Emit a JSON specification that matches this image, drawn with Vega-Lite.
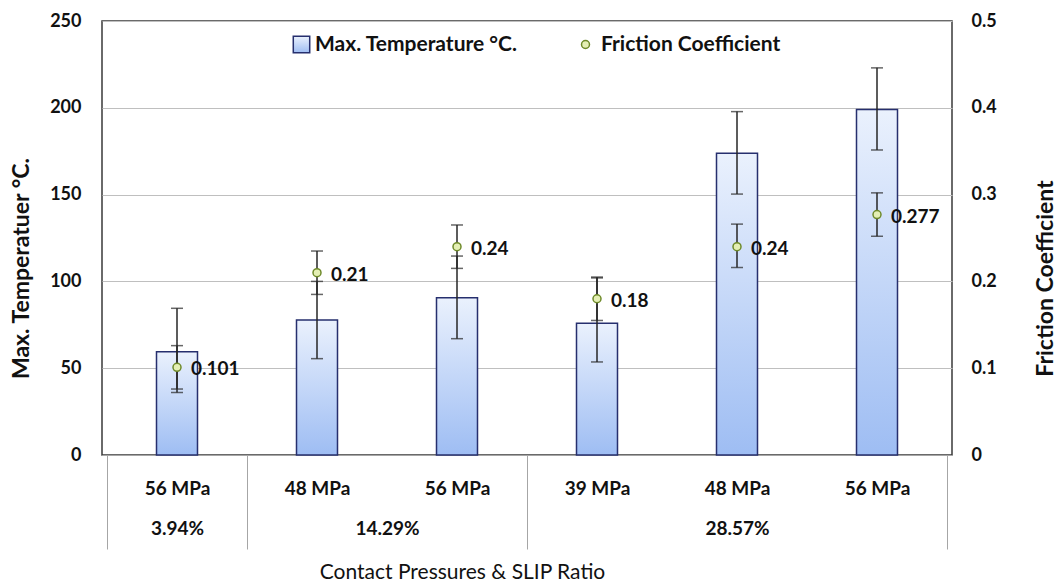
{
  "$schema": "https://vega.github.io/schema/vega-lite/v6.json",
  "width": 850,
  "height": 434,
  "autosize": {"type": "none"},
  "padding": {"left": 102, "top": 21, "right": 105, "bottom": 129},
  "background": "white",
  "config": {
    "font": "Lato",
    "view": {"stroke": "#3a3a3a", "strokeWidth": 1.5},
    "axis": {"labelFont": "Lato", "titleFont": "Lato", "labelColor": "#111", "titleColor": "#111"},
    "legend": {"labelFont": "Lato", "labelLimit": 400}
  },
  "data": {
    "values": [
      {"slip": "3.94%", "pressure": "56 MPa", "n": 1, "temp": 59.5, "temp_lo": 36, "temp_hi": 84.5, "friction": 0.101, "f_lo": 0.076, "f_hi": 0.126},
      {"slip": "14.29%", "pressure": "48 MPa", "n": 2, "temp": 77.8, "temp_lo": 55.5, "temp_hi": 100, "friction": 0.21, "f_lo": 0.185, "f_hi": 0.235},
      {"slip": "14.29%", "pressure": "56 MPa", "n": 3, "temp": 90.6, "temp_lo": 67, "temp_hi": 114.6, "friction": 0.24, "f_lo": 0.215, "f_hi": 0.265},
      {"slip": "28.57%", "pressure": "39 MPa", "n": 4, "temp": 75.9, "temp_lo": 53.6, "temp_hi": 102, "friction": 0.18, "f_lo": 0.155, "f_hi": 0.205},
      {"slip": "28.57%", "pressure": "48 MPa", "n": 5, "temp": 173.8, "temp_lo": 150.3, "temp_hi": 197.8, "friction": 0.24, "f_lo": 0.216, "f_hi": 0.266},
      {"slip": "28.57%", "pressure": "56 MPa", "n": 6, "temp": 199, "temp_lo": 175.7, "temp_hi": 223, "friction": 0.277, "f_lo": 0.252, "f_hi": 0.302}
    ]
  },
  "layer": [
    {
      "encoding": {
        "x": {
          "field": "n",
          "type": "quantitative",
          "scale": {"domain": [0.5, 6.5], "nice": false, "zero": false},
          "axis": {
            "values": [0.5, 1, 1.5, 2, 2.5, 3, 3.5, 4, 5, 6, 6.5],
            "labelExpr": "datum.value == 1 ? ['56 MPa', '3.94%'] : datum.value == 2 ? '48 MPa' : datum.value == 2.5 ? [' ', '14.29%'] : datum.value == 3 ? '56 MPa' : datum.value == 4 ? '39 MPa' : datum.value == 5 ? ['48 MPa', '28.57%'] : datum.value == 6 ? '56 MPa' : ''",
            "tickSize": 94,
            "tickColor": "#a6a6a6",
            "tickWidth": 1,
            "tickOpacity": {"condition": {"test": "datum.value == 0.5 || datum.value == 1.5 || datum.value == 3.5 || datum.value == 6.5", "value": 1}, "value": 0},
            "labelPadding": -70,
            "labelBaseline": "top",
            "labelLineHeight": 40,
            "labelFontSize": 19,
            "labelFontWeight": "bold",
            "labelOverlap": false,
            "labelBound": false,
            "labelFlush": false,
            "domainColor": "#a6a6a6",
            "grid": false,
            "title": "Contact Pressures & SLIP Ratio",
            "titleFontSize": 21,
            "titleFontWeight": "normal",
            "titleX": 360,
            "titleY": 117,
            "titleBaseline": "middle",
            "titleAlign": "center"
          }
        }
      },
      "layer": [
        {
          "mark": {
            "type": "bar",
            "width": 41,
            "strokeWidth": 1.5,
            "fill": {"gradient": "linear", "x1": 0, "y1": 0, "x2": 0, "y2": 1, "stops": [{"offset": 0, "color": "#eaf1fd"}, {"offset": 1, "color": "#9ebdf3"}]}
          },
          "encoding": {
            "y": {
              "field": "temp",
              "type": "quantitative",
              "scale": {"domain": [0, 250], "nice": false},
              "axis": {
                "values": [0, 50, 100, 150, 200, 250],
                "grid": true,
                "gridColor": "#bfbfbf",
                "gridWidth": 1,
                "domain": false,
                "ticks": false,
                "labelPadding": 21,
                "labelFontSize": 18,
                "labelFontWeight": "bold",
                "title": "Max. Temperatuer °C.",
                "titleFontSize": 23,
                "titleFontWeight": "bold",
                "titleAngle": 270,
                "titleX": -81,
                "titleY": 247,
                "titleAlign": "center",
                "titleBaseline": "middle"
              }
            },
            "stroke": {
              "datum": "Max. Temperature °C.",
              "scale": {"range": ["#262f6e"]},
              "legend": {
                "orient": "none",
                "legendX": 189,
                "legendY": 13,
                "title": null,
                "symbolType": "square",
                "symbolSize": 270,
                "symbolFillColor": "#c9daf7",
                "symbolStrokeWidth": 1.5,
                "labelFontSize": 21,
                "labelFontWeight": "bold",
                "labelColor": "#111",
                "labelOffset": 3
              }
            }
          }
        },
        {
          "mark": {"type": "rule", "color": "#262626", "strokeWidth": 1.5},
          "encoding": {
            "y": {"field": "temp_lo", "type": "quantitative"},
            "y2": {"field": "temp_hi"}
          }
        },
        {
          "mark": {"type": "tick", "orient": "horizontal", "color": "#262626", "size": 12, "thickness": 1.5},
          "encoding": {"y": {"field": "temp_lo", "type": "quantitative"}}
        },
        {
          "mark": {"type": "tick", "orient": "horizontal", "color": "#262626", "size": 12, "thickness": 1.5},
          "encoding": {"y": {"field": "temp_hi", "type": "quantitative"}}
        }
      ]
    },
    {
      "encoding": {
        "x": {"field": "n", "type": "quantitative"}
      },
      "layer": [
        {
          "mark": {"type": "rule", "color": "#262626", "strokeWidth": 1.5},
          "encoding": {
            "y": {
              "field": "f_lo",
              "type": "quantitative",
              "scale": {"domain": [0, 0.5], "nice": false},
              "axis": {
                "orient": "right",
                "values": [0, 0.1, 0.2, 0.3, 0.4, 0.5],
                "format": ".1~f",
                "grid": false,
                "domain": false,
                "ticks": false,
                "labelPadding": 19,
                "labelFontSize": 18,
                "labelFontWeight": "bold",
                "title": "Friction Coefficient",
                "titleFontSize": 23,
                "titleFontWeight": "bold",
                "titleAngle": 270,
                "titleX": 93,
                "titleY": 257,
                "titleAlign": "center",
                "titleBaseline": "middle"
              }
            },
            "y2": {"field": "f_hi"}
          }
        },
        {
          "mark": {"type": "tick", "orient": "horizontal", "color": "#262626", "size": 12, "thickness": 1.5},
          "encoding": {"y": {"field": "f_lo", "type": "quantitative"}}
        },
        {
          "mark": {"type": "tick", "orient": "horizontal", "color": "#262626", "size": 12, "thickness": 1.5},
          "encoding": {"y": {"field": "f_hi", "type": "quantitative"}}
        },
        {
          "mark": {"type": "point", "filled": true, "size": 64, "stroke": "#6e8a2a", "strokeWidth": 1.5, "opacity": 1},
          "encoding": {
            "y": {"field": "friction", "type": "quantitative"},
            "fill": {
              "datum": "Friction Coefficient",
              "scale": {"range": ["#e4efb4"]},
              "legend": {
                "orient": "none",
                "legendX": 473,
                "legendY": 13,
                "title": null,
                "symbolType": "circle",
                "symbolSize": 64,
                "symbolStrokeColor": "#6e8a2a",
                "symbolStrokeWidth": 1.5,
                "labelFontSize": 21,
                "labelFontWeight": "bold",
                "labelColor": "#111",
                "labelOffset": 5
              }
            }
          }
        },
        {
          "mark": {"type": "text", "align": "left", "baseline": "middle", "dx": 14, "dy": 2, "fontSize": 19, "fontWeight": "bold", "color": "#111"},
          "encoding": {
            "y": {"field": "friction", "type": "quantitative"},
            "text": {"field": "friction", "type": "quantitative", "format": ".3~f"}
          }
        }
      ]
    }
  ],
  "resolve": {"scale": {"y": "independent"}}
}
